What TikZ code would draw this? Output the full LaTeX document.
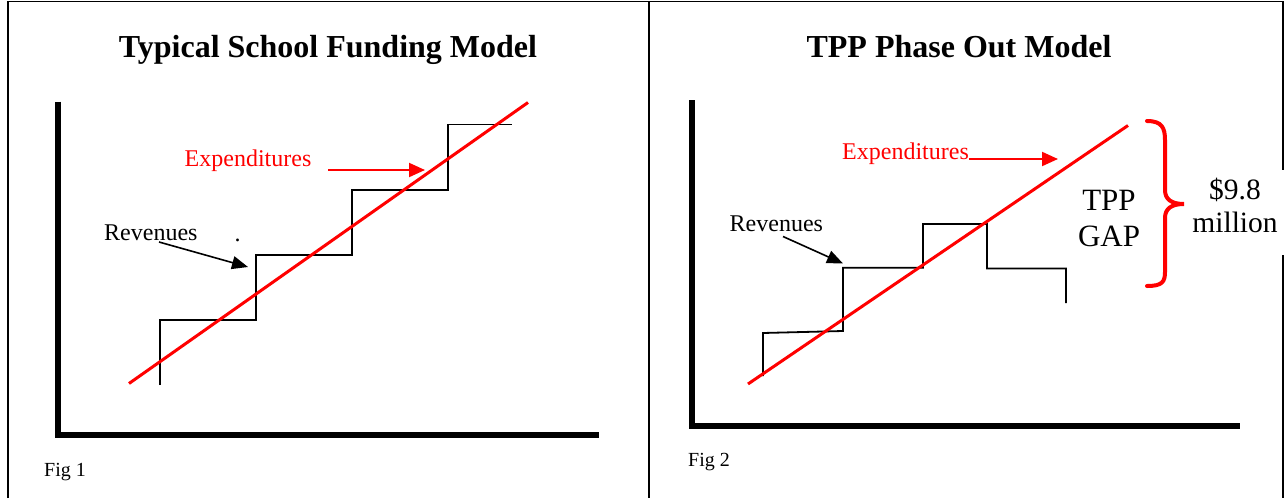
\documentclass[tikz,border=0pt]{standalone}
\usepackage{fontspec}
\setmainfont{Liberation Serif}
\usetikzlibrary{arrows.meta}
\begin{document}
\begin{tikzpicture}[x=1pt,y=-1pt,
  frame/.style={line width=1.8pt,black},
  axis/.style={line width=5.5pt,black,line join=miter},
  stairs/.style={line width=1.8pt,black,line join=miter},
  trend/.style={line width=3pt,red},
  redarrow/.style={line width=2pt,red,-{Triangle[length=16pt,width=14pt]}},
  blackarrow/.style={line width=1.6pt,black,-{Triangle[length=16pt,width=13pt]}},
  title/.style={inner sep=0pt,anchor=base,font=\fontsize{32}{36}\selectfont\bfseries},
  lbl/.style={inner sep=0pt,anchor=base west,font=\fontsize{24}{28}\selectfont},
  figlbl/.style={inner sep=0pt,anchor=base west,font=\fontsize{20}{24}\selectfont},
  big/.style={inner sep=0pt,anchor=base,font=\fontsize{31}{36}\selectfont},
  amount/.style={inner sep=0pt,anchor=base,font=\fontsize{29.5}{34}\selectfont}]
\useasboundingbox (0,0) rectangle (1285,498);
% frame
\draw[frame] (8,498) -- (8,1.5) -- (1283,1.5) -- (1283,170);
\draw[frame] (1283,255) -- (1283,498);
\draw[frame] (649,1.5) -- (649,498);
% ---------- Figure 1 ----------
\node[title] (t1) at (328,57.5) {Typical School Funding Model};
\draw[axis] (58,101.5) -- (58,435) -- (599,435);
\draw[stairs] (160,385) -- (160,320) -- (256,320) -- (256,255) -- (352,255) -- (352,190) -- (448,190) -- (448,124.5) -- (512,124.5);
\coordinate (r1a) at (129,383.5);
\coordinate (r1b) at (528,102.5);
\draw[trend] (r1a) -- (r1b);
\node[lbl,red] (exp1) at (184.5,166) {Expenditures};
\coordinate (ea1s) at (328,170);
\coordinate (ea1e) at (425,170);
\draw[redarrow] (ea1s) -- (ea1e);
\node[lbl] (rev1) at (104,240.5) {Revenues};
\node[inner sep=0pt,anchor=base,font=\fontsize{24}{28}\selectfont] (dot1) at (237.5,241) {.};
\coordinate (ra1s) at (159,242);
\coordinate (ra1e) at (248,267);
\draw[blackarrow] (ra1s) -- (ra1e);
\node[figlbl] (fig1) at (44,476) {Fig 1};
% ---------- Figure 2 ----------
\node[title] (t2) at (959,57.5) {TPP Phase Out Model};
\draw[axis] (692,100) -- (692,426) -- (1240,426);
\draw[stairs] (763,376) -- (763,333) -- (843,331) -- (843,267.7) -- (923,267.7) -- (923,224) -- (987,224) -- (987,268.5) -- (1066,268.5) -- (1066,303);
\coordinate (r2a) at (748,384);
\coordinate (r2b) at (1128,125.5);
\draw[trend] (r2a) -- (r2b);
\node[lbl,red] (exp2) at (842,159) {Expenditures};
\coordinate (ea2e) at (1058,159);
\draw[redarrow] (exp2.base east) ++(0,0) coordinate (ea2s) -- (ea2e);
\node[lbl] (rev2) at (729.5,231) {Revenues};
\coordinate (ra2s) at (783,236.5);
\coordinate (ra2e) at (843,263.5);
\draw[blackarrow] (ra2s) -- (ra2e);
\node[big] (tpp) at (1109,210) {TPP};
\node[big] (gap) at (1109,246.5) {GAP};
\draw[red,line width=4pt,line cap=round]
  (1147,121) .. controls (1162,121) and (1165,128) .. (1165,140) -- (1165,190)
  .. controls (1165,199) and (1171,204) .. (1184,204)
  .. controls (1171,204) and (1165,209) .. (1165,218) -- (1165,272)
  .. controls (1165,282) and (1162,286) .. (1147,286);
\node[amount] (amt) at (1235,199) {\$9.8};
\node[amount] (mil) at (1235,232.5) {million};
\node[figlbl] (fig2) at (688,466) {Fig 2};
\end{tikzpicture}
\end{document}
